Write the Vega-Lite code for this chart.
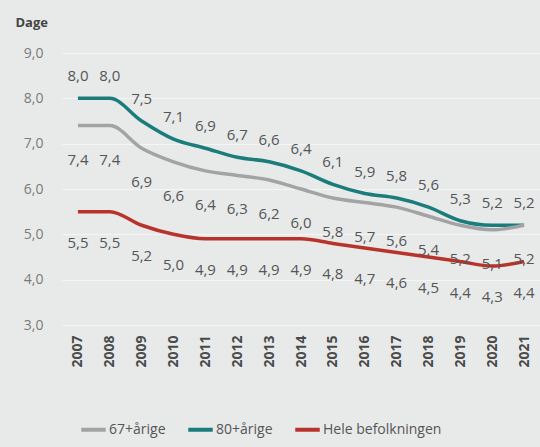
{
  "$schema": "https://vega.github.io/schema/vega-lite/v6.json",
  "width": 478,
  "height": 272,
  "autosize": {"type": "none"},
  "padding": {"left": 62, "top": 53, "right": 0, "bottom": 122},
  "background": "#e8eaea",
  "config": {
    "view": {"stroke": null},
    "font": "Open Sans",
    "axis": {"gridColor": "#f4f5f5", "gridWidth": 1},
    "locale": {"number": {"decimal": ",", "thousands": ".", "grouping": [3], "currency": ["", " kr."]}}
  },
  "data": {
    "values": [
      {"year": "2007", "series": "80+årige", "value": 8.0},
      {"year": "2008", "series": "80+årige", "value": 8.0},
      {"year": "2009", "series": "80+årige", "value": 7.5},
      {"year": "2010", "series": "80+årige", "value": 7.1},
      {"year": "2011", "series": "80+årige", "value": 6.9},
      {"year": "2012", "series": "80+årige", "value": 6.7},
      {"year": "2013", "series": "80+årige", "value": 6.6},
      {"year": "2014", "series": "80+årige", "value": 6.4},
      {"year": "2015", "series": "80+årige", "value": 6.1},
      {"year": "2016", "series": "80+årige", "value": 5.9},
      {"year": "2017", "series": "80+årige", "value": 5.8},
      {"year": "2018", "series": "80+årige", "value": 5.6},
      {"year": "2019", "series": "80+årige", "value": 5.3},
      {"year": "2020", "series": "80+årige", "value": 5.2},
      {"year": "2021", "series": "80+årige", "value": 5.2},
      {"year": "2007", "series": "67+årige", "value": 7.4},
      {"year": "2008", "series": "67+årige", "value": 7.4},
      {"year": "2009", "series": "67+årige", "value": 6.9},
      {"year": "2010", "series": "67+årige", "value": 6.6},
      {"year": "2011", "series": "67+årige", "value": 6.4},
      {"year": "2012", "series": "67+årige", "value": 6.3},
      {"year": "2013", "series": "67+årige", "value": 6.2},
      {"year": "2014", "series": "67+årige", "value": 6.0},
      {"year": "2015", "series": "67+årige", "value": 5.8},
      {"year": "2016", "series": "67+årige", "value": 5.7},
      {"year": "2017", "series": "67+årige", "value": 5.6},
      {"year": "2018", "series": "67+årige", "value": 5.4},
      {"year": "2019", "series": "67+årige", "value": 5.2},
      {"year": "2020", "series": "67+årige", "value": 5.1},
      {"year": "2021", "series": "67+årige", "value": 5.2},
      {"year": "2007", "series": "Hele befolkningen", "value": 5.5},
      {"year": "2008", "series": "Hele befolkningen", "value": 5.5},
      {"year": "2009", "series": "Hele befolkningen", "value": 5.2},
      {"year": "2010", "series": "Hele befolkningen", "value": 5.0},
      {"year": "2011", "series": "Hele befolkningen", "value": 4.9},
      {"year": "2012", "series": "Hele befolkningen", "value": 4.9},
      {"year": "2013", "series": "Hele befolkningen", "value": 4.9},
      {"year": "2014", "series": "Hele befolkningen", "value": 4.9},
      {"year": "2015", "series": "Hele befolkningen", "value": 4.8},
      {"year": "2016", "series": "Hele befolkningen", "value": 4.7},
      {"year": "2017", "series": "Hele befolkningen", "value": 4.6},
      {"year": "2018", "series": "Hele befolkningen", "value": 4.5},
      {"year": "2019", "series": "Hele befolkningen", "value": 4.4},
      {"year": "2020", "series": "Hele befolkningen", "value": 4.3},
      {"year": "2021", "series": "Hele befolkningen", "value": 4.4}
    ]
  },
  "encoding": {
    "x": {
      "field": "year", "type": "ordinal",
      "scale": {"type": "point", "padding": 0.5},
      "axis": {
        "title": null, "labelAngle": -90, "labelPadding": 10,
        "ticks": false, "domain": false, "grid": false,
        "labelFont": "Open Sans", "labelFontWeight": "bold",
        "labelFontSize": 14, "labelColor": "#4a4a4a"
      }
    },
    "y": {
      "field": "value", "type": "quantitative",
      "scale": {"domain": [3, 9], "nice": false, "zero": false},
      "axis": {
        "values": [3, 4, 5, 6, 7, 8, 9],
        "format": ".1f",
        "ticks": false, "domain": false,
        "labelPadding": 19, "labelFontSize": 14, "labelColor": "#7a7a7a",
        "title": "Dage", "titleAngle": 0, "titleAlign": "left",
        "titleBaseline": "middle", "titleX": -47, "titleY": -31,
        "titleFontSize": 13, "titleFontWeight": "bold", "titleColor": "#444444"
      }
    }
  },
  "layer": [
    {
      "mark": {"type": "line", "interpolate": "monotone", "strokeWidth": 3.5},
      "encoding": {
        "color": {
          "field": "series", "type": "nominal",
          "scale": {
            "domain": ["67+årige", "80+årige", "Hele befolkningen"],
            "range": ["#a3a3a5", "#1a7d7b", "#b8332b"]
          },
          "legend": {
            "title": null, "orient": "none", "direction": "horizontal",
            "legendX": 17, "legendY": 362,
            "symbolType": "stroke", "symbolStrokeWidth": 4, "symbolSize": 600,
            "labelFontSize": 14, "labelColor": "#555555", "labelOffset": 1,
            "columnPadding": 14
          }
        }
      }
    },
    {
      "transform": [{"filter": "datum.series === '80+årige'"}],
      "mark": {"type": "text", "dy": -22, "fontSize": 15, "color": "#555555"},
      "encoding": {"text": {"field": "value", "type": "quantitative", "format": ".1f"}}
    },
    {
      "transform": [{"filter": "datum.series === '67+årige'"}],
      "mark": {"type": "text", "dy": 34, "fontSize": 15, "color": "#555555"},
      "encoding": {"text": {"field": "value", "type": "quantitative", "format": ".1f"}}
    },
    {
      "transform": [{"filter": "datum.series === 'Hele befolkningen'"}],
      "mark": {"type": "text", "dy": 31, "fontSize": 15, "color": "#555555"},
      "encoding": {"text": {"field": "value", "type": "quantitative", "format": ".1f"}}
    }
  ]
}
